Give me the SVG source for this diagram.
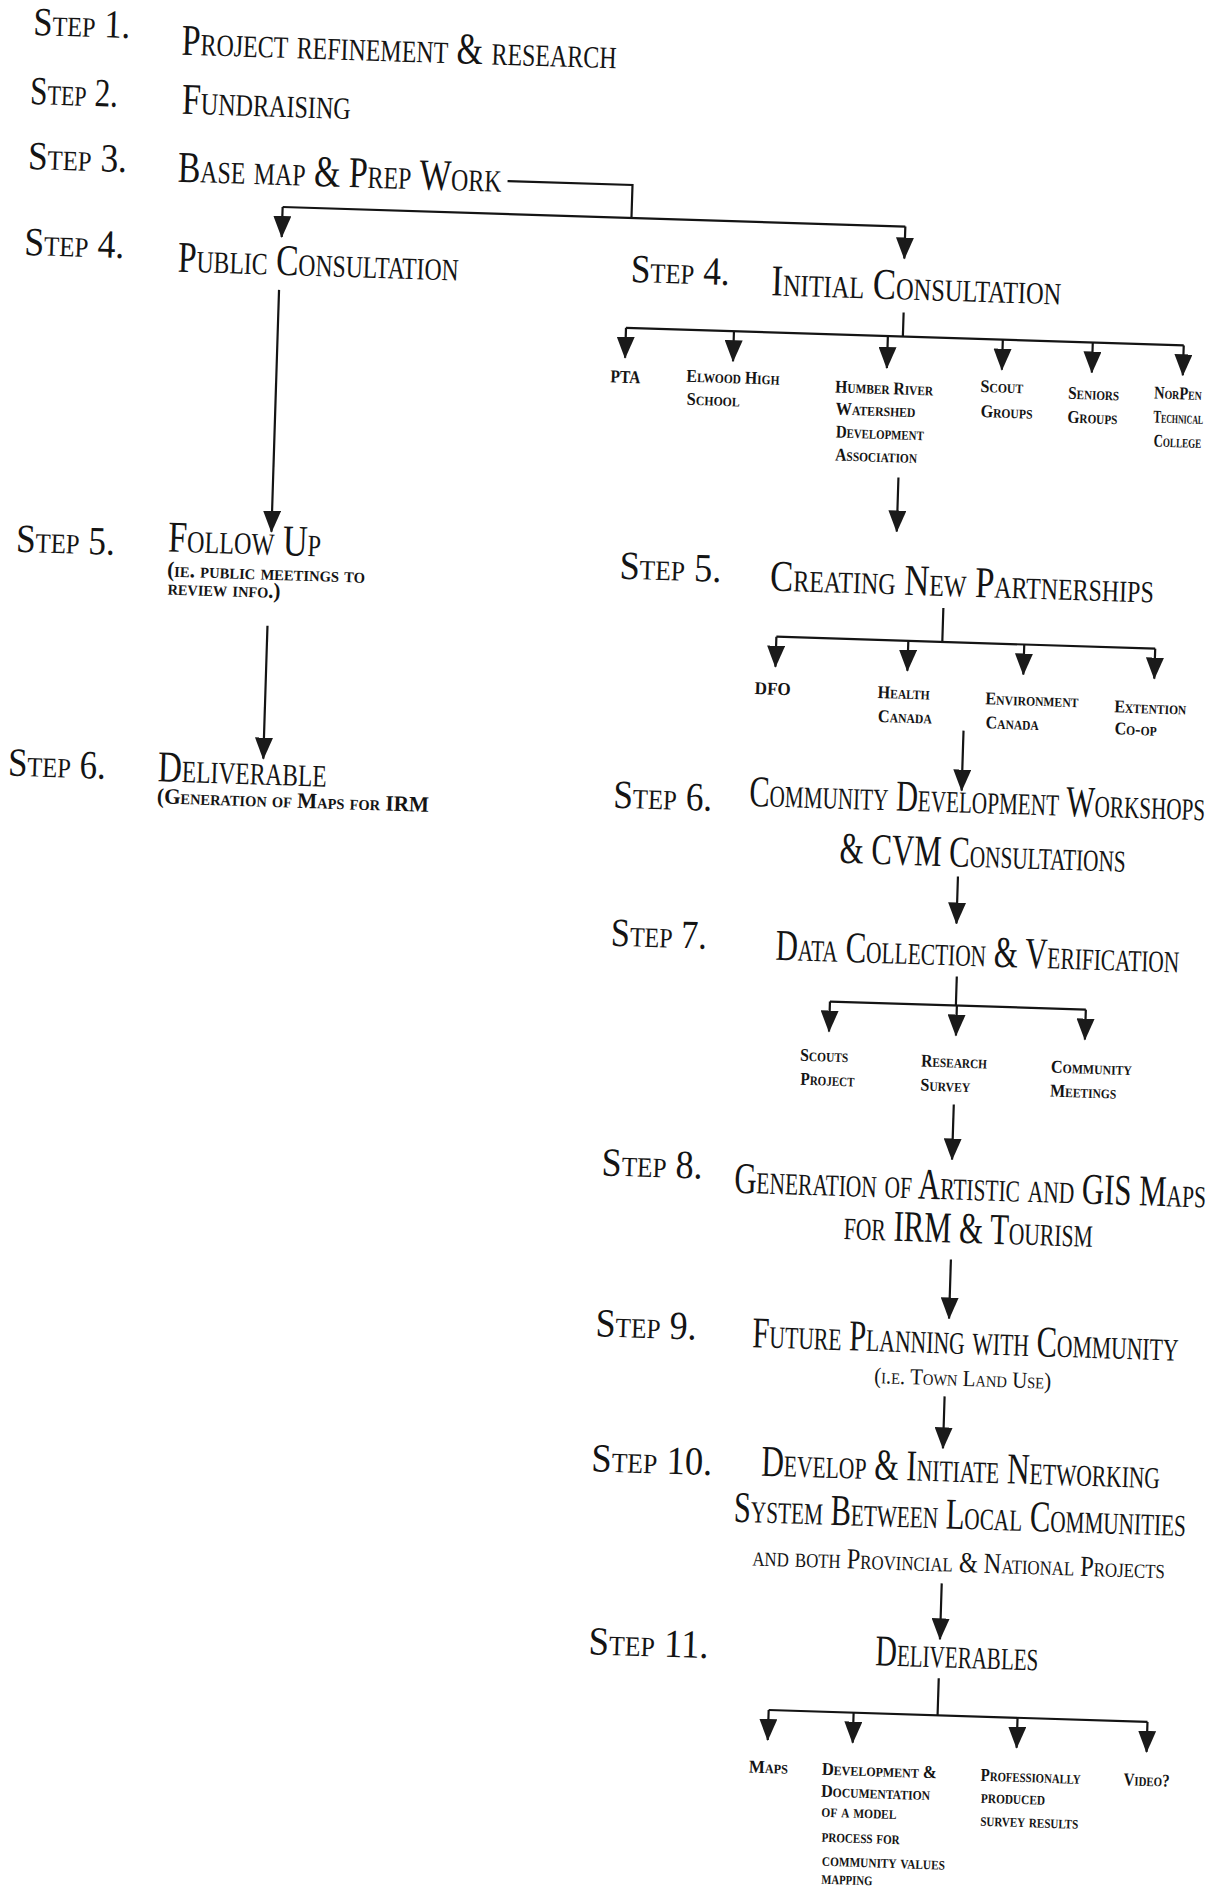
<svg xmlns="http://www.w3.org/2000/svg" width="1213" height="1892" viewBox="0 0 1213 1892">
<style>
text{font-family:"Liberation Serif","DejaVu Serif",serif;font-variant:small-caps;fill:#141414}
.step{font-size:40px}
.title{font-size:44px}
.mid{font-size:29px}
.sub{font-size:22px;font-weight:bold}
.leaf{font-size:18px;font-weight:bold}
#connectors path{stroke:#141414;stroke-width:2.2;fill:none}
</style>
<defs>
<marker id="ah" viewBox="0 0 22 18" refX="21" refY="9" markerWidth="22" markerHeight="18" markerUnits="userSpaceOnUse" orient="auto">
<path d="M0,0 L22,9 L0,18 Z" fill="#1a1a1a"/>
</marker>
</defs>
<rect width="1213" height="1892" fill="#ffffff"/>
<g transform="rotate(1.8)">
<g id="connectors">
<path d="M513 165 H638 V198"/>
<path d="M289 198 H912"/>
<path d="M289 198 V228" marker-end="url(#ah)"/>
<path d="M912 198 V230" marker-end="url(#ah)"/>
<path d="M288 281 V523" marker-end="url(#ah)"/>
<path d="M287 617 V750" marker-end="url(#ah)"/>
<path d="M913 284 V308"/>
<path d="M636 308 H1194"/>
<path d="M636 308 V338" marker-end="url(#ah)"/>
<path d="M744 308 V338" marker-end="url(#ah)"/>
<path d="M898 308 V340" marker-end="url(#ah)"/>
<path d="M1013 308 V338" marker-end="url(#ah)"/>
<path d="M1103 308 V338" marker-end="url(#ah)"/>
<path d="M1194 308 V338" marker-end="url(#ah)"/>
<path d="M913 449 V503" marker-end="url(#ah)"/>
<path d="M962 578 V612"/>
<path d="M796 612 H1175"/>
<path d="M796 612 V642" marker-end="url(#ah)"/>
<path d="M928 612 V642" marker-end="url(#ah)"/>
<path d="M1044 612 V642" marker-end="url(#ah)"/>
<path d="M1175 612 V642" marker-end="url(#ah)"/>
<path d="M986 700 V760" marker-end="url(#ah)"/>
<path d="M985 846 V893" marker-end="url(#ah)"/>
<path d="M987 946 V975"/>
<path d="M861 975 H1117"/>
<path d="M861 975 V1005" marker-end="url(#ah)"/>
<path d="M988 975 V1005" marker-end="url(#ah)"/>
<path d="M1117 975 V1005" marker-end="url(#ah)"/>
<path d="M988 1074 V1129" marker-end="url(#ah)"/>
<path d="M990 1229 V1288" marker-end="url(#ah)"/>
<path d="M988 1366 V1418" marker-end="url(#ah)"/>
<path d="M991 1553 V1609" marker-end="url(#ah)"/>
<path d="M991 1648 V1685"/>
<path d="M822 1685 H1201"/>
<path d="M822 1685 V1715" marker-end="url(#ah)"/>
<path d="M907 1685 V1715" marker-end="url(#ah)"/>
<path d="M1071 1685 V1715" marker-end="url(#ah)"/>
<path d="M1201 1685 V1715" marker-end="url(#ah)"/>
</g>

<g id="step1">
<text class="step" x="34" y="34" textLength="97" lengthAdjust="spacingAndGlyphs">Step 1.</text>
<text class="title" x="183" y="49" textLength="435" lengthAdjust="spacingAndGlyphs">Project refinement &amp; research</text>
</g>
<g id="step2">
<text class="step" x="33" y="103" textLength="88" lengthAdjust="spacingAndGlyphs">Step 2.</text>
<text class="title" x="185" y="108" textLength="169" lengthAdjust="spacingAndGlyphs">Fundraising</text>
</g>
<g id="step3">
<text class="step" x="33" y="168" textLength="99" lengthAdjust="spacingAndGlyphs">Step 3.</text>
<text class="title" x="183" y="176" textLength="324" lengthAdjust="spacingAndGlyphs">Base map &amp; Prep Work</text>
</g>
<g id="step4-public">
<text class="step" x="32" y="254" textLength="100" lengthAdjust="spacingAndGlyphs">Step 4.</text>
<text class="title" x="186" y="266" textLength="281" lengthAdjust="spacingAndGlyphs">Public Consultation</text>
</g>
<g id="step5-followup">
<text class="step" x="33" y="551" textLength="99" lengthAdjust="spacingAndGlyphs">Step 5.</text>
<text class="title" x="185" y="546" textLength="153" lengthAdjust="spacingAndGlyphs">Follow Up</text>
<text class="sub" x="185" y="571" textLength="198" lengthAdjust="spacingAndGlyphs">(ie. public meetings to</text>
<text class="sub" x="186" y="589" textLength="113" lengthAdjust="spacingAndGlyphs">review info.)</text>
</g>
<g id="step6-deliverable">
<text class="step" x="32" y="775" textLength="98" lengthAdjust="spacingAndGlyphs">Step 6.</text>
<text class="title" x="182" y="776" textLength="169" lengthAdjust="spacingAndGlyphs">Deliverable</text>
<text class="sub" x="182" y="798" textLength="272" lengthAdjust="spacingAndGlyphs">(Generation of Maps for IRM</text>
</g>

<g id="step4-initial">
<text class="step" x="639" y="262" textLength="99" lengthAdjust="spacingAndGlyphs">Step 4.</text>
<text class="title" x="780" y="271" textLength="290" lengthAdjust="spacingAndGlyphs">Initial Consultation</text>
</g>
<g id="pta"><text class="leaf" x="622" y="363" textLength="30" lengthAdjust="spacingAndGlyphs">PTA</text></g>
<g id="elwood">
<text class="leaf" x="698" y="360" textLength="93" lengthAdjust="spacingAndGlyphs">Elwood High</text>
<text class="leaf" x="699" y="383" textLength="53" lengthAdjust="spacingAndGlyphs">School</text>
</g>
<g id="humber">
<text class="leaf" x="847" y="366" textLength="98" lengthAdjust="spacingAndGlyphs">Humber River</text>
<text class="leaf" x="848" y="388" textLength="80" lengthAdjust="spacingAndGlyphs">Watershed</text>
<text class="leaf" x="849" y="411" textLength="88" lengthAdjust="spacingAndGlyphs">Development</text>
<text class="leaf" x="849" y="434" textLength="82" lengthAdjust="spacingAndGlyphs">Association</text>
</g>
<g id="scout">
<text class="leaf" x="992" y="361" textLength="43" lengthAdjust="spacingAndGlyphs">Scout</text>
<text class="leaf" x="993" y="386" textLength="52" lengthAdjust="spacingAndGlyphs">Groups</text>
</g>
<g id="seniors">
<text class="leaf" x="1080" y="365" textLength="51" lengthAdjust="spacingAndGlyphs">Seniors</text>
<text class="leaf" x="1080" y="389" textLength="50" lengthAdjust="spacingAndGlyphs">Groups</text>
</g>
<g id="norpen">
<text class="leaf" transform="translate(1166 362) scale(0.78 1)" textLength="61" lengthAdjust="spacingAndGlyphs">NorPen</text>
<text class="leaf" transform="translate(1166 386) scale(0.6 1)" textLength="83" lengthAdjust="spacingAndGlyphs">Technical</text>
<text class="leaf" transform="translate(1167 410) scale(0.7 1)" textLength="68" lengthAdjust="spacingAndGlyphs">College</text>
</g>

<g id="step5-partnerships">
<text class="step" x="637" y="559" textLength="102" lengthAdjust="spacingAndGlyphs">Step 5.</text>
<text class="title" transform="translate(788 566) scale(0.76 1)" textLength="505" lengthAdjust="spacingAndGlyphs">Creating New Partnerships</text>
</g>
<g id="dfo"><text class="leaf" x="776" y="670" textLength="36" lengthAdjust="spacingAndGlyphs">DFO</text></g>
<g id="health">
<text class="leaf" x="899" y="670" textLength="52" lengthAdjust="spacingAndGlyphs">Health</text>
<text class="leaf" x="900" y="694" textLength="54" lengthAdjust="spacingAndGlyphs">Canada</text>
</g>
<g id="environment">
<text class="leaf" x="1007" y="673" textLength="93" lengthAdjust="spacingAndGlyphs">Environment</text>
<text class="leaf" x="1008" y="697" textLength="53" lengthAdjust="spacingAndGlyphs">Canada</text>
</g>
<g id="extention">
<text class="leaf" x="1136" y="677" textLength="72" lengthAdjust="spacingAndGlyphs">Extention</text>
<text class="leaf" x="1137" y="699" textLength="42" lengthAdjust="spacingAndGlyphs">Co-op</text>
</g>

<g id="step6-workshops">
<text class="step" x="638" y="788" textLength="99" lengthAdjust="spacingAndGlyphs">Step 6.</text>
<text class="title" transform="translate(774 782) scale(0.66 1)" textLength="691" lengthAdjust="spacingAndGlyphs">Community Development Workshops</text>
<text class="title" transform="translate(866 836) scale(0.68 1)" textLength="421" lengthAdjust="spacingAndGlyphs">&amp; CVM Consultations</text>
</g>
<g id="step7-data">
<text class="step" x="640" y="926" textLength="96" lengthAdjust="spacingAndGlyphs">Step 7.</text>
<text class="title" transform="translate(805 935) scale(0.68 1)" textLength="594" lengthAdjust="spacingAndGlyphs">Data Collection &amp; Verification</text>
</g>
<g id="scouts-project">
<text class="leaf" x="833" y="1035" textLength="48" lengthAdjust="spacingAndGlyphs">Scouts</text>
<text class="leaf" x="834" y="1059" textLength="54" lengthAdjust="spacingAndGlyphs">Project</text>
</g>
<g id="research-survey">
<text class="leaf" x="954" y="1037" textLength="66" lengthAdjust="spacingAndGlyphs">Research</text>
<text class="leaf" x="954" y="1061" textLength="50" lengthAdjust="spacingAndGlyphs">Survey</text>
</g>
<g id="community-meetings">
<text class="leaf" x="1084" y="1039" textLength="81" lengthAdjust="spacingAndGlyphs">Community</text>
<text class="leaf" x="1084" y="1063" textLength="66" lengthAdjust="spacingAndGlyphs">Meetings</text>
</g>

<g id="step8-maps">
<text class="step" x="638" y="1156" textLength="101" lengthAdjust="spacingAndGlyphs">Step 8.</text>
<text class="title" transform="translate(771 1169) scale(0.66 1)" textLength="715" lengthAdjust="spacingAndGlyphs">Generation of Artistic and GIS Maps</text>
<text class="title" x="882" y="1212" textLength="249" lengthAdjust="spacingAndGlyphs">for IRM &amp; Tourism</text>
</g>
<g id="step9-planning">
<text class="step" x="637" y="1317" textLength="101" lengthAdjust="spacingAndGlyphs">Step 9.</text>
<text class="title" transform="translate(794 1323) scale(0.7 1)" textLength="609" lengthAdjust="spacingAndGlyphs">Future Planning with Community</text>
<text class="sub" x="917" y="1355" textLength="177" lengthAdjust="spacingAndGlyphs" style="font-weight:normal;font-size:23px">(i.e. Town Land Use)</text>
</g>
<g id="step10-networking">
<text class="step" x="637" y="1452" textLength="121" lengthAdjust="spacingAndGlyphs">Step 10.</text>
<text class="title" transform="translate(807 1451) scale(0.69 1)" textLength="578" lengthAdjust="spacingAndGlyphs">Develop &amp; Initiate Networking</text>
<text class="title" transform="translate(781 1498) scale(0.67 1)" textLength="675" lengthAdjust="spacingAndGlyphs">System Between Local Communities</text>
<text class="mid" transform="translate(801 1541) scale(0.78 1)" textLength="529" lengthAdjust="spacingAndGlyphs">and both Provincial &amp; National Projects</text>
</g>
<g id="step11-deliverables">
<text class="step" x="640" y="1635" textLength="120" lengthAdjust="spacingAndGlyphs">Step 11.</text>
<text class="title" x="927" y="1637" textLength="163" lengthAdjust="spacingAndGlyphs">Deliverables</text>
</g>
<g id="maps"><text class="leaf" x="804" y="1748" textLength="39" lengthAdjust="spacingAndGlyphs">Maps</text></g>
<g id="development">
<text class="leaf" x="877" y="1748" textLength="115" lengthAdjust="spacingAndGlyphs">Development &amp;</text>
<text class="leaf" x="877" y="1770" textLength="109" lengthAdjust="spacingAndGlyphs">Documentation</text>
<text class="leaf" x="878" y="1790" textLength="75" lengthAdjust="spacingAndGlyphs">of a model</text>
<text class="leaf" x="879" y="1815" textLength="78" lengthAdjust="spacingAndGlyphs">process for</text>
<text class="leaf" x="880" y="1839" textLength="123" lengthAdjust="spacingAndGlyphs">community values</text>
<text class="leaf" x="880" y="1857" textLength="51" lengthAdjust="spacingAndGlyphs">mapping</text>
</g>
<g id="professionally">
<text class="leaf" x="1036" y="1749" textLength="100" lengthAdjust="spacingAndGlyphs">Professionally</text>
<text class="leaf" x="1037" y="1771" textLength="64" lengthAdjust="spacingAndGlyphs">produced</text>
<text class="leaf" x="1037" y="1794" textLength="98" lengthAdjust="spacingAndGlyphs">survey results</text>
</g>
<g id="video"><text class="leaf" x="1179" y="1749" textLength="46" lengthAdjust="spacingAndGlyphs">Video?</text></g>
</g>
</svg>
